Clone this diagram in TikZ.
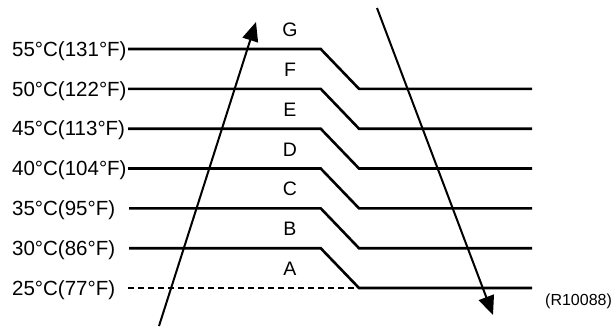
\documentclass[tikz,border=0pt]{standalone}
\usepackage{fontspec}
\setmainfont{Liberation Sans}
\newfontfamily\labfont{Liberation Sans}
\usetikzlibrary{arrows.meta}
\begin{document}
\begin{tikzpicture}[x=1pt,y=-1pt,
  templine/.style={line width=2.6pt, line join=miter},
  refline/.style={line width=1.4pt, dash pattern=on 6pt off 4pt},
  flowarrow/.style={line width=2pt, -{Triangle[length=19pt,width=16pt]}},
  templabel/.style={font=\labfont\fontsize{20.5}{22}\selectfont, anchor=base west, inner sep=0pt},
  zonelabel/.style={font=\labfont\fontsize{19.5}{21}\selectfont, anchor=base, inner sep=0pt},
  reflabel/.style={font=\labfont\fontsize{16}{18}\selectfont, anchor=base west, inner sep=0pt}]
\useasboundingbox (0,0) rectangle (614,327);
% levels
\def\ya{49}\def\yb{88.8}\def\yc{128.7}\def\yd{168.5}\def\ye{208.3}\def\yf{248.2}\def\yg{288}
% temperature labels
\node[templabel] (t55) at (12,\ya+7.2) {55°C(131°F)};
\node[templabel] (t50) at (12,\yb+7.2) {50°C(122°F)};
\node[templabel] (t45) at (12,\yc+7.2) {45°C(113°F)};
\node[templabel] (t40) at (12,\yd+7.2) {40°C(104°F)};
\node[templabel] (t35) at (12,\ye+7.2) {35°C(95°F)};
\node[templabel] (t30) at (12,\yf+7.2) {30°C(86°F)};
\node[templabel] (t25) at (12,\yg+7.2) {25°C(77°F)};
% zone letters
\node[zonelabel] (zG) at (290,\ya-12.5) {G};
\node[zonelabel] (zF) at (290,\yb-12.5) {F};
\node[zonelabel] (zE) at (290,\yc-12.5) {E};
\node[zonelabel] (zD) at (290,\yd-12.5) {D};
\node[zonelabel] (zC) at (290,\ye-12.5) {C};
\node[zonelabel] (zB) at (290,\yf-12.5) {B};
\node[zonelabel] (zA) at (290,\yg-12.5) {A};
% stepped lines
\draw[templine] (128,\ya) -- (320.7,\ya) -- (359,\yb) -- (532,\yb);
\draw[templine] (128,\yb) -- (320.7,\yb) -- (359,\yc) -- (532,\yc);
\draw[templine] (128,\yc) -- (320.7,\yc) -- (359,\yd) -- (532,\yd);
\draw[templine] (128,\yd) -- (320.7,\yd) -- (359,\ye) -- (532,\ye);
\draw[templine] (129,\ye) -- (320.7,\ye) -- (359,\yf) -- (532,\yf);
\draw[templine] (129,\yf) -- (320.7,\yf) -- (359,\yg) -- (532,\yg);
\draw[refline] (128,\yg) -- (359,\yg);
% arrows
\coordinate (upS) at (159,326);
\coordinate (upE) at (256,22);
\coordinate (dnS) at (377,8);
\coordinate (dnE) at (493,315);
\draw[flowarrow] (upS) -- (upE);
\draw[flowarrow] (dnS) -- (dnE);
\node[reflabel] (ref) at (545,305) {(R10088)};
\end{tikzpicture}
\end{document}
